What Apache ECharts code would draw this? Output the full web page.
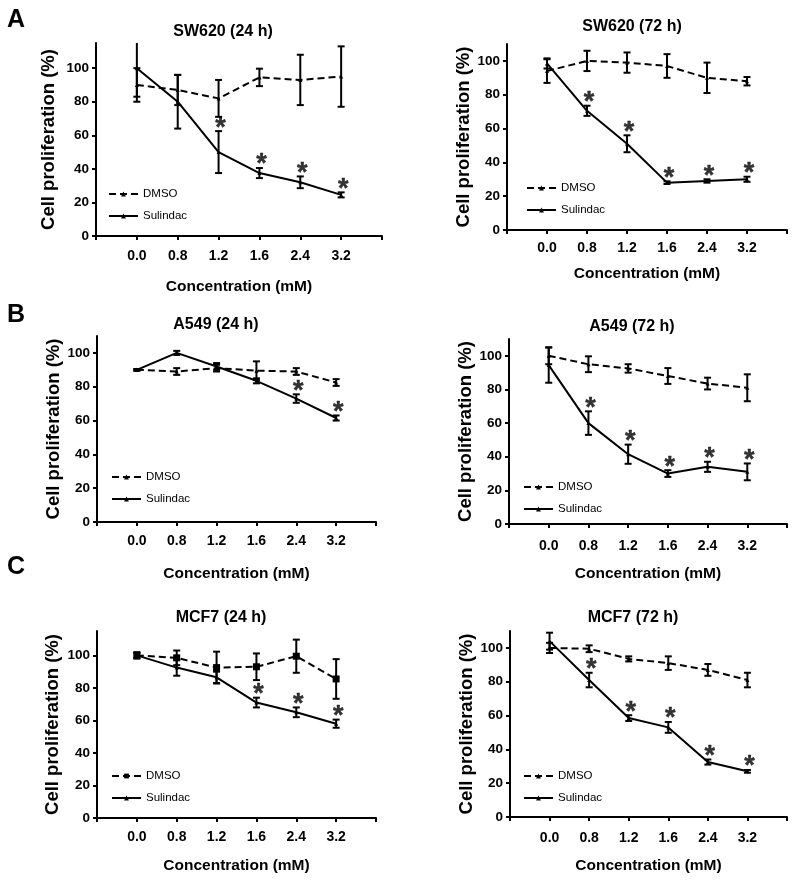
<!DOCTYPE html>
<html><head><meta charset="utf-8">
<script src="https://cdn.jsdelivr.net/npm/echarts@6/dist/echarts.min.js"></script>
<style>html,body{margin:0;padding:0;background:#fff}#c{width:800px;height:889px}</style>
</head><body><div id="c"></div>
<script>
// ---------- data ----------
const concentrations = ['0.0', '0.8', '1.2', '1.6', '2.4', '3.2'];

const sw620_24_dmso   = [90, 87, 82, 94.5, 93, 95];
const sw620_24_dmsoSd = [10, 9, 11, 5.2, 15, 18];
const sw620_24_sul    = [100, 80, 50, 37.5, 32, 24.5];
const sw620_24_sulSd  = [17, 16, 12.5, 3, 3.5, 1.5];
const sw620_24_sig    = [0, 0, 1, 1, 1, 1];

const sw620_72_dmso   = [94, 100, 99, 97, 90, 88];
const sw620_72_dmsoSd = [7, 6, 6, 7, 9, 2.5];
const sw620_72_sul    = [98.5, 70.5, 51, 28, 29, 30];
const sw620_72_sulSd  = [3, 3, 5, 0.8, 1, 1.5];
const sw620_72_sig    = [0, 1, 1, 1, 1, 1];

const a549_24_dmso    = [90, 89, 91, 89.5, 89, 82.5];
const a549_24_dmsoSd  = [0.5, 2, 2, 5.5, 2, 2];
const a549_24_sul     = [90, 100, 92, 83.5, 73, 61.5];
const a549_24_sulSd   = [0.5, 1.2, 2, 1.5, 2.5, 1.5];
const a549_24_sig     = [0, 0, 0, 0, 1, 1];

const a549_72_dmso    = [100, 95, 92.5, 88, 83.5, 81];
const a549_72_dmsoSd  = [5, 4.7, 2.5, 4.7, 3.5, 8];
const a549_72_sul     = [94.5, 60, 41.5, 30, 34, 31];
const a549_72_sulSd   = [10.5, 7, 5.7, 2, 3, 5];
const a549_72_sig     = [0, 1, 1, 1, 1, 1];

const mcf7_24_dmso    = [100, 98.5, 92.5, 93, 99.5, 85.5];
const mcf7_24_dmsoSd  = [2, 4.5, 9.8, 8.2, 10.2, 12.2];
const mcf7_24_sul     = [100, 92.5, 86.5, 71, 65, 58];
const mcf7_24_sulSd   = [1.5, 5, 3.5, 3, 3, 2.5];
const mcf7_24_sig     = [0, 0, 0, 1, 1, 1];

const mcf7_72_dmso    = [100, 99.5, 93.5, 91, 87, 81];
const mcf7_72_dmsoSd  = [3, 2, 1.5, 4, 3.5, 4.3];
const mcf7_72_sul     = [104, 81, 58.5, 53, 32.5, 27];
const mcf7_72_sulSd   = [5, 4.3, 1.7, 3.2, 1.5, 0.8];
const mcf7_72_sig     = [0, 1, 1, 1, 1, 1];

const yTicks = [0, 20, 40, 60, 80, 100];

// ---------- layout ----------
const FONT = '"Liberation Sans", Arial, Helvetica, sans-serif';
const panels = [
  {key:'A24', title:'SW620 (24 h)', d:sw620_24_dmso, dsd:sw620_24_dmsoSd, s:sw620_24_sul, ssd:sw620_24_sulSd, sig:sw620_24_sig,
   grid:{left:96, top:43, width:286, height:193}, ymax:115, tpos:[223,32], yGap:37.5, xGap:42.5, lm:13, leg:[108,187], dsym:'triangle', dsize:4},
  {key:'A72', title:'SW620 (72 h)', d:sw620_72_dmso, dsd:sw620_72_dmsoSd, s:sw620_72_sul, ssd:sw620_72_sulSd, sig:sw620_72_sig,
   grid:{left:507, top:44, width:280, height:186}, ymax:110, tpos:[632,27], yGap:32.5, xGap:36.2, lm:11, leg:[526,181], dsym:'triangle', dsize:4},
  {key:'B24', title:'A549 (24 h)', d:a549_24_dmso, dsd:a549_24_dmsoSd, s:a549_24_sul, ssd:a549_24_sulSd, sig:a549_24_sig,
   grid:{left:97, top:336, width:279, height:186}, ymax:110, tpos:[216,325], yGap:33, xGap:44.2, lm:12, leg:[111,470], dsym:'triangle', dsize:4},
  {key:'B72', title:'A549 (72 h)', d:a549_72_dmso, dsd:a549_72_dmsoSd, s:a549_72_sul, ssd:a549_72_sulSd, sig:a549_72_sig,
   grid:{left:509, top:339, width:278, height:185}, ymax:110, tpos:[632,327], yGap:33, xGap:42.2, lm:15, leg:[523,480], dsym:'triangle', dsize:4},
  {key:'C24', title:'MCF7 (24 h)', d:mcf7_24_dmso, dsd:mcf7_24_dmsoSd, s:mcf7_24_sul, ssd:mcf7_24_sulSd, sig:mcf7_24_sig,
   grid:{left:97, top:631, width:279, height:187}, ymax:115, tpos:[221,618], yGap:34.5, xGap:40, lm:12, leg:[111,769], dsym:'rect', dsize:7},
  {key:'C72', title:'MCF7 (72 h)', d:mcf7_72_dmso, dsd:mcf7_72_dmsoSd, s:mcf7_72_sul, ssd:mcf7_72_sulSd, sig:mcf7_72_sig,
   grid:{left:510, top:631, width:277, height:186}, ymax:110, tpos:[633,618], yGap:33, xGap:41, lm:14, leg:[523,769], dsym:'triangle', dsize:4}
];

const grids = [], xAxes = [], yAxes = [], series = [], legends = [], graphics = [];

function errRender(params, api) {
  const x = api.value(0), lo = api.value(1), hi = api.value(2);
  const a = api.coord([x, lo]), b = api.coord([x, hi]);
  const cw = 3.5;
  const cs = params.coordSys;
  const st = {stroke:'#000', lineWidth:2};
  return {
    type:'group',
    clipPath:{type:'rect', shape:{x:cs.x - 10, y:cs.y, width:cs.width + 20, height:cs.height + 2}},
    children:[
      {type:'line', shape:{x1:a[0], y1:a[1], x2:b[0], y2:b[1]}, style:st},
      {type:'line', shape:{x1:a[0]-cw, y1:a[1], x2:a[0]+cw, y2:a[1]}, style:st},
      {type:'line', shape:{x1:b[0]-cw, y1:b[1], x2:b[0]+cw, y2:b[1]}, style:st}
    ]
  };
}

panels.forEach((p, i) => {
  grids.push(Object.assign({containLabel:false}, p.grid));
  xAxes.push({
    type:'value', gridIndex:i, min:0, max:7, interval:1,
    axisLine:{show:true, onZero:false, lineStyle:{color:'#000', width:2}},
    axisTick:{show:true, length:4, lineStyle:{color:'#000', width:2}, customValues:[0,1,2,3,4,5,6,7]},
    axisLabel:{show:true, customValues:[1,2,3,4,5,6], formatter:v => concentrations[v-1] || '',
      fontSize:14, fontWeight:'bold', color:'#000', fontFamily:FONT, margin:p.lm},
    splitLine:{show:false},
    name:'Concentration (mM)', nameLocation:'middle', nameGap:p.xGap,
    nameTextStyle:{fontSize:15.5, fontWeight:'bold', color:'#000', fontFamily:FONT}
  });
  yAxes.push({
    type:'value', gridIndex:i, min:0, max:p.ymax, interval:20,
    axisLine:{show:true, onZero:false, lineStyle:{color:'#000', width:2}},
    axisTick:{show:true, length:4, lineStyle:{color:'#000', width:2}, customValues:yTicks},
    axisLabel:{show:true, customValues:yTicks, fontSize:13.5, fontWeight:'bold', color:'#000', fontFamily:FONT, margin:7},
    splitLine:{show:false},
    name:'Cell proliferation (%)', nameLocation:'middle', nameGap:p.yGap,
    nameTextStyle:{fontSize:18.5, fontWeight:'bold', color:'#000', fontFamily:FONT}
  });
  const dName = 'DMSO_' + p.key, sName = 'Sulindac_' + p.key;
  series.push({
    type:'line', name:dName, xAxisIndex:i, yAxisIndex:i,
    data:p.d.map((v,j) => [j+1, v]),
    symbol:p.dsym, symbolSize:p.dsize, showSymbol:true,
    itemStyle:{color:'#000'}, lineStyle:{color:'#000', width:2, type:[7,4]}, z:3
  });
  series.push({
    type:'line', name:sName, xAxisIndex:i, yAxisIndex:i,
    data:p.s.map((v,j) => [j+1, v]),
    symbol:'triangle', symbolSize:4, showSymbol:true,
    itemStyle:{color:'#000'}, lineStyle:{color:'#000', width:2, type:'solid'}, z:3
  });
  const errData = [];
  p.d.forEach((v,j) => errData.push([j+1, v - p.dsd[j], v + p.dsd[j]]));
  p.s.forEach((v,j) => errData.push([j+1, v - p.ssd[j], v + p.ssd[j]]));
  series.push({
    type:'custom', xAxisIndex:i, yAxisIndex:i, renderItem:errRender,
    data:errData, encode:{x:0, y:[1,2]}, z:4, silent:true
  });
  const starData = [];
  p.sig.forEach((f,j) => { if (f) starData.push([j+1, p.s[j] + p.ssd[j]]); });
  series.push({
    type:'scatter', xAxisIndex:i, yAxisIndex:i, data:starData,
    symbolSize:1, itemStyle:{color:'rgba(0,0,0,0)'}, silent:true, z:5,
    label:{show:true, formatter:'*', position:'inside', offset:[2,-3],
      fontSize:27, fontWeight:'bold', color:'#000', fontFamily:FONT,
      textBorderColor:'#000', textBorderWidth:0.4}
  });
  legends.push({
    left:p.leg[0], top:p.leg[1], padding:0, orient:'vertical', itemWidth:29, itemHeight:6, itemGap:8,
    data:[dName, sName], selectedMode:false,
    formatter:n => n.split('_')[0],
    textStyle:{fontSize:11.5, color:'#000', fontFamily:FONT, lineHeight:14}
  });
  graphics.push({
    type:'text', x:p.tpos[0], y:p.tpos[1],
    style:{text:p.title, fontSize:16, fontWeight:'bold', fill:'#000', fontFamily:FONT,
      textAlign:'center', textVerticalAlign:'middle'}
  });
});

[['A',20.5],['B',315.5],['C',567]].forEach(([t,y]) => graphics.push({
  type:'text', x:7, y:y,
  style:{text:t, fontSize:25, fontWeight:'bold', fill:'#000', fontFamily:FONT, textAlign:'left', textVerticalAlign:'middle'}
}));

const chart = echarts.init(document.getElementById('c'), null, {renderer:'canvas'});
chart.setOption({
  animation:false,
  backgroundColor:'#fff',
  grid:grids, xAxis:xAxes, yAxis:yAxes, series:series, legend:legends, graphic:graphics,
  tooltip:{show:false}
});
</script></body></html>
